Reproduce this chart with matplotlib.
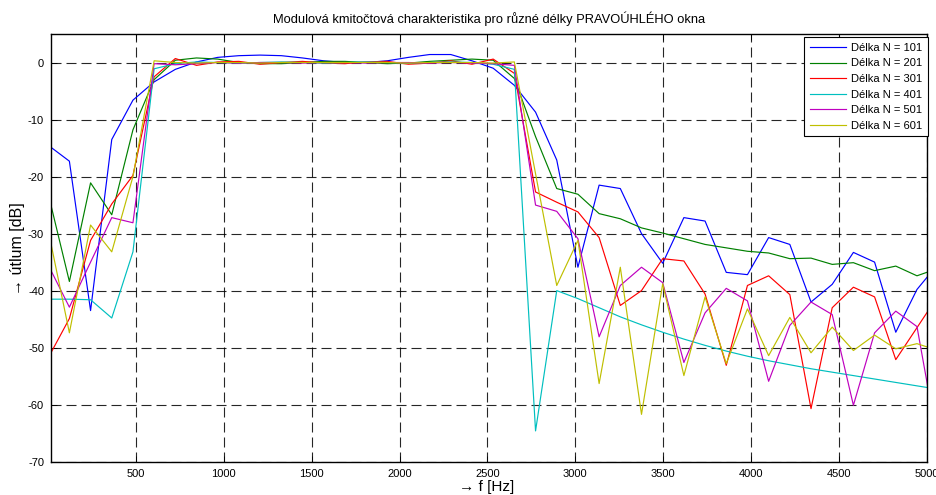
import matplotlib
matplotlib.use('Agg')
import matplotlib.pyplot as plt
import numpy as np

# ---------------- data ----------------
freq = np.arange(43) * 120.6          # frequency samples [Hz]

labels = ['Délka N = 101', 'Délka N = 201', 'Délka N = 301',
          'Délka N = 401', 'Délka N = 501', 'Délka N = 601']

n101 = [-14.5, -17.3, -43.5, -13.5, -6.6, -3.4, -1.2, 0.1, 0.9, 1.2, 1.3, 1.2, 0.8, 0.3,
        0.0, 0.0, 0.3, 0.9, 1.4, 1.4, 0.3, -1.0, -4.0, -8.7, -17.1, -35.9, -21.5, -22.1,
        -30.0, -35.2, -27.2, -27.8, -36.8, -37.2, -30.7, -31.9, -42.0, -38.9, -33.3,
        -35.0, -47.3, -39.8, -35.3]
n201 = [-23.0, -38.4, -21.1, -26.7, -11.8, -3.0, 0.4, 0.8, 0.6, 0.0, -0.2, -0.2, 0.0, 0.2,
        0.2, 0.0, -0.2, -0.1, 0.2, 0.4, 0.6, 0.4, -2.8, -13.0, -22.1, -23.1, -26.5, -27.4,
        -29.0, -29.9, -30.9, -31.9, -32.5, -33.1, -33.4, -34.4, -34.3, -35.4, -35.1,
        -36.5, -35.7, -37.4, -36.1]
n301 = [-51.8, -44.9, -31.2, -24.8, -19.8, -2.5, 0.7, -0.5, 0.1, 0.2, -0.3, 0.0, 0.2, -0.1,
        -0.2, 0.1, 0.2, -0.3, -0.1, 0.3, -0.3, 0.6, -1.9, -22.7, -24.5, -26.2, -30.7, -42.6,
        -40.0, -34.4, -34.8, -40.6, -53.1, -39.1, -37.4, -40.7, -60.7, -43.0, -39.4,
        -41.1, -52.1, -46.5, -40.9]
n401 = [-41.5, -41.5, -41.6, -44.8, -33.2, -1.1, -0.2, 0.1, 0.0, -0.1, 0.0, 0.1, 0.0, -0.1,
        0.0, 0.1, 0.0, -0.1, 0.0, 0.1, 0.0, -0.3, -1.2, -64.6, -40.0, -41.4, -43.0, -44.6,
        -46.0, -47.3, -48.5, -49.6, -50.6, -51.5, -52.3, -53.0, -53.7, -54.3, -54.9,
        -55.5, -56.1, -56.7, -57.3]
n501 = [-35.5, -42.9, -35.0, -27.2, -28.1, -0.2, -0.4, -0.2, 0.0, -0.1, 0.0, 0.0, -0.1, 0.0,
        0.0, -0.1, 0.0, 0.0, -0.1, 0.0, -0.1, -0.2, -0.5, -25.0, -26.1, -30.9, -48.1, -39.1,
        -35.9, -38.6, -52.6, -43.9, -39.6, -41.8, -55.9, -46.1, -42.0, -44.2, -60.1,
        -47.4, -43.6, -46.3, -67.0]
n601 = [-29.4, -47.4, -28.5, -33.2, -20.0, 0.3, 0.0, -0.1, 0.0, 0.0, -0.1, 0.0, 0.0, 0.0,
        0.0, 0.0, 0.0, -0.1, 0.0, 0.0, 0.0, -0.1, 0.1, -19.5, -39.1, -31.2, -56.3, -35.9,
        -61.7, -38.8, -54.9, -41.1, -52.8, -43.2, -51.4, -44.7, -50.9, -46.4, -50.5,
        -47.8, -50.2, -49.3, -50.5]

series = [n101, n201, n301, n401, n501, n601]
colors = ['#0000ff', '#008000', '#ff0000', '#00bfbf', '#bf00bf', '#bfbf00']

xticks = list(range(500, 5001, 500))
yticks = list(range(-70, 1, 10))

# ---------------- plot ----------------
plt.rcParams['font.family'] = ['Liberation Sans', 'DejaVu Sans']
plt.rcParams['axes.unicode_minus'] = False

fig = plt.figure(figsize=(9.36, 4.95), dpi=100)
ax = fig.add_axes([51 / 936, 1 - 461.7 / 495, 875.7 / 936, 427.7 / 495])

for vals, lab, col in zip(series, labels, colors):
    ax.plot(freq, vals, color=col, lw=0.85, label=lab)

ax.set_xlim(16, 5000)
ax.set_ylim(-70, 5)
ax.set_xticks(xticks)
ax.set_yticks(yticks)
ax.tick_params(direction='in', top=True, right=True, length=4, width=0.6,
               labelsize=8, pad=5)
ax.grid(True, color='black', linestyle=(0, (9, 4.5)), linewidth=0.8, alpha=0.85)
for s in ax.spines.values():
    s.set_linewidth(1.0)
    s.set_color('black')

ax.set_title('Modulová kmitočtová charakteristika pro různé délky PRAVOÚHLÉHO okna',
             fontsize=9.3, pad=8)
fig.text(487 / 936, 1 - 487 / 495, '→ f [Hz]', ha='center', va='center', fontsize=11)
fig.text(18 / 936, 1 - 249 / 495, '→ útlum [dB]', ha='center', va='center',
         rotation=90, fontsize=11.5)

leg = ax.legend(loc='upper right', bbox_to_anchor=(1.001, 1 - 3.3 / 427.7),
                borderaxespad=0, fontsize=8, fancybox=False, edgecolor='black',
                framealpha=1, handlelength=3.3, handletextpad=0.4,
                labelspacing=0.5, borderpad=0.5)
leg.get_frame().set_linewidth(0.8)

fig.savefig('out.png', dpi=100)
